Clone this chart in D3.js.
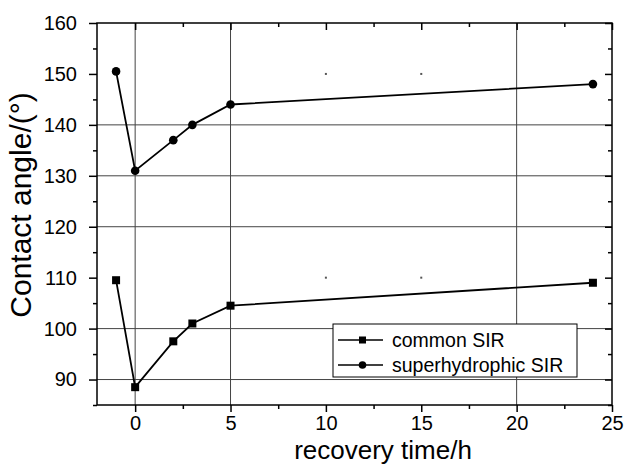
<!DOCTYPE html>
<html>
<head>
<meta charset="utf-8">
<script src="https://cdn.jsdelivr.net/npm/d3@7"></script>
<style>
  body { margin: 0; background: #fff; }
  svg { display: block; font-family: "Liberation Sans", Arial, sans-serif; }
</style>
</head>
<body>
<svg id="chart" width="629" height="465"></svg>
<script>
// recovery times (h) and contact angles
const times = [-1, 0, 2, 3, 5, 24];
const commonSIR = [109.5, 88.5, 97.5, 101, 104.5, 109];
const superSIR = [150.5, 131, 137, 140, 144, 148];

const xTicks = [0, 5, 10, 15, 20, 25];
const xMinor = [-2.5, 2.5, 7.5, 12.5, 17.5, 22.5];
const yTicks = [90, 100, 110, 120, 130, 140, 150, 160];
const yMinor = [85, 95, 105, 115, 125, 135, 145, 155];
// only some grid lines survive in the original
const gridX = [0, 5, 20];
const gridY = [90, 100, 120, 130, 140];
const gridDots = [[10, 110], [15, 110], [10, 150], [15, 150]];

const legendNames = ["common SIR", "superhydrophic SIR"];

const margin = { top: 23, right: 17, bottom: 60, left: 97 };
const width = 629 - margin.left - margin.right;
const height = 465 - margin.top - margin.bottom;

const svg = d3.select("#chart");
const g = svg.append("g").attr("transform", `translate(${margin.left},${margin.top})`);

const x = d3.scaleLinear().domain([-2, 25]).range([0, width]);
const y = d3.scaleLinear().domain([85, 160]).range([height, 0]);

// grid
g.selectAll(".gx").data(gridX).join("line")
  .attr("x1", d => x(d)).attr("x2", d => x(d))
  .attr("y1", 0).attr("y2", height)
  .attr("stroke", "#444").attr("stroke-width", 1);
g.selectAll(".gy").data(gridY).join("line")
  .attr("y1", d => y(d)).attr("y2", d => y(d))
  .attr("x1", 0).attr("x2", width)
  .attr("stroke", "#444").attr("stroke-width", 1);
g.selectAll(".gd").data(gridDots).join("rect")
  .attr("x", d => x(d[0]) - 1).attr("y", d => y(d[1]) - 1)
  .attr("width", 2).attr("height", 2).attr("fill", "#555");

// axes
function styleAxis(sel) {
  sel.select(".domain").remove();
  sel.selectAll("line").attr("stroke", "#000").attr("stroke-width", 1.5);
  sel.selectAll("text").attr("fill", "#000").style("font-size", "20px");
}

g.append("g").attr("transform", `translate(0,${height})`)
  .call(d3.axisBottom(x).tickValues(xTicks).tickSize(7).tickPadding(4).tickFormat(d3.format("d")))
  .call(styleAxis);
g.append("g").attr("transform", `translate(0,${height})`)
  .call(d3.axisBottom(x).tickValues(xMinor.filter(v => v > -2)).tickSize(4).tickFormat(""))
  .call(styleAxis);
g.append("g")
  .call(d3.axisTop(x).tickValues(xTicks).tickSize(-7).tickFormat(""))
  .call(styleAxis);
g.append("g")
  .call(d3.axisTop(x).tickValues(xMinor.filter(v => v > -2)).tickSize(-4).tickFormat(""))
  .call(styleAxis);

g.append("g")
  .call(d3.axisLeft(y).tickValues(yTicks).tickSize(8).tickPadding(12).tickFormat(d3.format("d")))
  .call(styleAxis);
g.append("g")
  .call(d3.axisLeft(y).tickValues(yMinor).tickSize(4).tickFormat(""))
  .call(styleAxis);
g.append("g").attr("transform", `translate(${width},0)`)
  .call(d3.axisRight(y).tickValues(yTicks).tickSize(-7).tickFormat(""))
  .call(styleAxis);
g.append("g").attr("transform", `translate(${width},0)`)
  .call(d3.axisRight(y).tickValues(yMinor).tickSize(-4).tickFormat(""))
  .call(styleAxis);

// frame
g.append("rect").attr("width", width).attr("height", height)
  .attr("fill", "none").attr("stroke", "#000").attr("stroke-width", 1.5);

// series
const line = d3.line().x(d => x(d[0])).y(d => y(d[1]));
const commonPts = times.map((t, i) => [t, commonSIR[i]]);
const superPts = times.map((t, i) => [t, superSIR[i]]);

[commonPts, superPts].forEach(pts => {
  g.append("path").datum(pts).attr("d", line)
    .attr("fill", "none").attr("stroke", "#000").attr("stroke-width", 1.8);
});
g.selectAll(".sq").data(commonPts).join("rect")
  .attr("x", d => x(d[0]) - 4).attr("y", d => y(d[1]) - 4)
  .attr("width", 8).attr("height", 8).attr("fill", "#000");
g.selectAll(".ci").data(superPts).join("circle")
  .attr("cx", d => x(d[0])).attr("cy", d => y(d[1])).attr("r", 4.3)
  .attr("fill", "#000");

// legend
const lg = svg.append("g").attr("transform", "translate(333,324)");
lg.append("rect").attr("width", 244).attr("height", 53)
  .attr("fill", "#fff").attr("stroke", "#000").attr("stroke-width", 1);
legendNames.forEach((name, i) => {
  const cy = 16 + i * 25;
  lg.append("line").attr("x1", 5).attr("x2", 50).attr("y1", cy).attr("y2", cy)
    .attr("stroke", "#000").attr("stroke-width", 1.6);
  if (i === 0) {
    lg.append("rect").attr("x", 26).attr("y", cy - 3.5).attr("width", 7).attr("height", 7).attr("fill", "#000");
  } else {
    lg.append("circle").attr("cx", 29.5).attr("cy", cy).attr("r", 3.8).attr("fill", "#000");
  }
  lg.append("text").attr("x", 59).attr("y", cy).attr("dy", "0.36em")
    .style("font-size", "19.5px").text(name);
});

// axis titles
svg.append("text").attr("x", 383).attr("y", 459).attr("text-anchor", "middle")
  .style("font-size", "26px").text("recovery time/h");
svg.append("text").attr("transform", "translate(31,205) rotate(-90)")
  .attr("text-anchor", "middle").style("font-size", "30px").text("Contact angle/(°)");
</script>
</body>
</html>
